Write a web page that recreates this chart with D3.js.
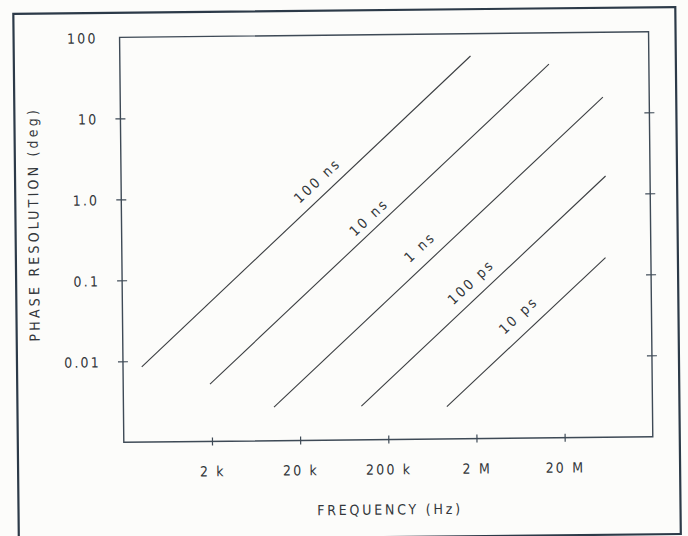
<!DOCTYPE html>
<html>
<head>
<meta charset="utf-8">
<script src="https://cdn.jsdelivr.net/npm/d3@7"></script>
<style>
  body { margin: 0; background: #fcfcfa; }
  svg { display: block; }
  text { font-family: "DejaVu Sans Condensed", "DejaVu Sans", sans-serif; fill: #33373b; }
</style>
</head>
<body>
<svg id="chart" width="688" height="536"></svg>
<script>
// axis ticks
var xTicks = [2e3, 2e4, 2e5, 2e6, 2e7];
var xTickLabels = ["2 k", "20 k", "200 k", "2 M", "20 M"];
var yTicks = [100, 10, 1, 0.1, 0.01];
var yTickLabels = ["100", "10", "1.0", "0.1", "0.01"];

// one line per time resolution (Hz, deg)
var seriesNames = ["100 ns", "10 ns", "1 ns", "100 ps", "10 ps"];
var startFreq = [326, 1930, 10200, 100000, 931000];
var startPhase = [0.0085, 0.0051, 0.0026, 0.0026, 0.0025];
var endFreq = [1.9e6, 1.47e7, 5.96e7, 6.26e7, 6.11e7];
var endPhase = [53, 41, 15.8, 1.68, 0.165];
var labelFreq = [33700, 128000, 481000, 1.81e6, 6.18e6];
var labelPhase = [1.61, 0.56, 0.236, 0.086, 0.033];

var svg = d3.select("#chart");
var page = svg.append("g").attr("transform", "rotate(-0.6, 344, 268)");

// outer frame
page.append("rect").attr("x", 16).attr("y", 10.5).attr("width", 662).attr("height", 527)
  .attr("fill", "none").attr("stroke", "#2c3a48").attr("stroke-width", 2.2);

var plotLeft = 122, plotRight = 651, plotTop = 35, plotBottom = 440;
var x = d3.scaleLog().domain([200, 2e8]).range([plotLeft, plotRight]);
var y = d3.scaleLog().domain([1e-3, 100]).range([plotBottom, plotTop]);

// plot box
page.append("rect").attr("x", plotLeft).attr("y", plotTop)
  .attr("width", plotRight - plotLeft).attr("height", plotBottom - plotTop)
  .attr("fill", "none").attr("stroke", "#3e4a56").attr("stroke-width", 1.4);

// bottom axis
var xAxis = page.append("g").attr("transform", "translate(0," + plotBottom + ")")
  .call(d3.axisBottom(x).tickValues(xTicks).tickSize(4).tickFormat(function(d, i) { return xTickLabels[i]; }));
xAxis.select(".domain").remove();
xAxis.selectAll(".tick line").attr("y1", -4).attr("y2", 4).attr("stroke", "#3e4a56").attr("stroke-width", 1.2);
xAxis.selectAll(".tick text").attr("y", 30).attr("dy", "0.35em")
  .style("font-size", "14px").style("letter-spacing", "2.2px").attr("fill", "#33373b");

// left axis
var yAxis = page.append("g").attr("transform", "translate(" + plotLeft + ",0)")
  .call(d3.axisLeft(y).tickValues(yTicks).tickSize(5).tickFormat(function(d, i) { return yTickLabels[i]; }));
yAxis.select(".domain").remove();
yAxis.selectAll(".tick line").attr("x1", function(d) { return d == 100 ? 0 : -5; })
  .attr("x2", function(d) { return d == 100 ? 0 : 5; }).attr("stroke", "#3e4a56").attr("stroke-width", 1.2);
yAxis.selectAll(".tick text").attr("x", -22).attr("dy", "0.38em")
  .style("font-size", "14px").style("letter-spacing", "2.2px").attr("fill", "#33373b");

// right axis, ticks only
page.append("g").selectAll("line").data(yTicks.slice(1)).join("line")
  .attr("x1", plotRight - 5).attr("x2", plotRight + 5)
  .attr("y1", function(d) { return y(d); }).attr("y2", function(d) { return y(d); })
  .attr("stroke", "#3e4a56").attr("stroke-width", 1.2);

// axis titles
page.append("text").attr("x", (plotLeft + plotRight) / 2 + 1).attr("y", 515)
  .attr("text-anchor", "middle").style("font-size", "14px").style("letter-spacing", "2.8px")
  .text("FREQUENCY (Hz)");
page.append("text").attr("transform", "translate(39,221) rotate(-90)")
  .attr("text-anchor", "middle").style("font-size", "14px").style("letter-spacing", "3.2px")
  .text("PHASE RESOLUTION (deg)");

// resolution lines
var lines = page.append("g").attr("stroke", "#3a3d40").attr("stroke-width", 1.1).attr("fill", "none");
var labels = page.append("g");
for (var i = 0; i < seriesNames.length; i++) {
  var x1 = x(startFreq[i]), y1 = y(startPhase[i]);
  var x2 = x(endFreq[i]), y2 = y(endPhase[i]);
  lines.append("path").attr("d", "M " + x1 + " " + y1 + " L " + x2 + " " + y2);
  var angle = Math.atan2(y2 - y1, x2 - x1) * 180 / Math.PI;
  labels.append("text")
    .attr("transform", "translate(" + x(labelFreq[i]) + "," + y(labelPhase[i]) + ") rotate(" + angle + ")")
    .attr("text-anchor", "middle").attr("dy", "0.35em")
    .style("font-size", "14px").style("letter-spacing", "2.6px")
    .text(seriesNames[i]);
}
</script>
</body>
</html>
